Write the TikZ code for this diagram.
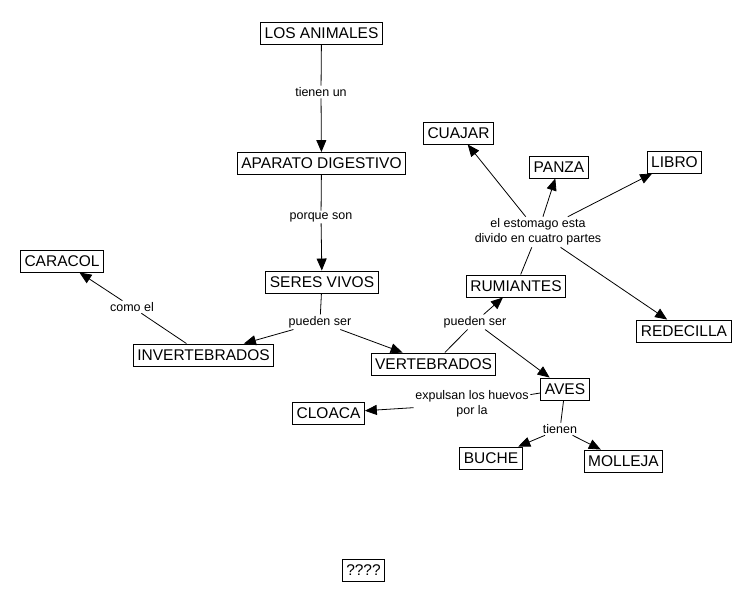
\documentclass[tikz,border=0pt]{standalone}
\usepackage{fontspec}
\setmainfont{Liberation Sans}
\usetikzlibrary{arrows.meta}
\begin{document}
\begin{tikzpicture}[x=1pt,y=-1pt,
  concept/.style={draw=black,line width=0.9pt,fill=white,inner xsep=4pt,inner ysep=0pt,minimum height=22pt,font=\fontsize{15.5}{18}\selectfont},
  lbl/.style={inner sep=1.5pt,align=center,font=\fontsize{12.5}{15.5}\selectfont},
  link/.style={line width=0.8pt,draw=black},
  arr/.style={link,-{Triangle[length=12pt,width=10pt]}}]
\path[use as bounding box,fill=white] (0,0) rectangle (750,601);
% concepts
\node[concept] (ani) at (321.5,33) {LOS ANIMALES};
\node[concept] (apa) at (321.5,163.5) {APARATO DIGESTIVO};
\node[concept] (ser) at (322,282) {SERES VIVOS};
\node[concept] (car) at (62,261) {CARACOL};
\node[concept] (inv) at (203.5,355) {INVERTEBRADOS};
\node[concept] (ver) at (433.5,364) {VERTEBRADOS};
\node[concept] (rum) at (516,286) {RUMIANTES};
\node[concept] (cua) at (458.5,133) {CUAJAR};
\node[concept] (pan) at (559,167) {PANZA};
\node[concept] (lib) at (674.5,162) {LIBRO};
\node[concept] (red) at (684,331) {REDECILLA};
\node[concept] (ave) at (565,389) {AVES};
\node[concept] (clo) at (328.5,413) {CLOACA};
\node[concept] (buc) at (491,458) {BUCHE};
\node[concept] (mol) at (623.5,461) {MOLLEJA};
\node[concept] (q) at (363.5,570) {????};
% link labels
\node[lbl] (l1) at (321,92) {tienen un};
\node[lbl] (l2) at (321,217) {porque son};
\node[lbl] (l3) at (132,307) {como el};
\node[lbl] (l4) at (320,322) {pueden ser};
\node[lbl] (l5) at (475,322) {pueden ser};
\node[lbl] (l6) at (538,232) {el estomago esta\\divido en cuatro partes};
\node[lbl] (l7) at (472,404) {expulsan los huevos\\por la};
\node[lbl] (l8) at (560,429) {tienen};
% connectors
\draw[link] (ani) -- (l1);
\draw[arr] (l1) -- (apa);
\draw[link] (apa) -- (l2);
\draw[arr] (l2) -- (ser);
\draw[link] (ser) -- (l4);
\draw[arr] (l4) -- (inv);
\draw[arr] (l4) -- (ver);
\draw[link] (inv) -- (l3);
\draw[arr] (l3) -- (car);
\draw[link] (ver) -- (l5);
\draw[arr] (l5) -- (rum);
\draw[arr] (l5) -- (ave);
\draw[link] (rum) -- (l6);
\draw[arr] (l6) -- (cua);
\draw[arr] (l6) -- (pan);
\draw[arr] (l6) -- (lib);
\draw[arr] (l6) -- (red);
\draw[link] (ave) -- (l7);
\draw[arr] (l7) -- (clo);
\draw[link] (ave) -- (l8);
\draw[arr] (l8) -- (buc);
\draw[arr] (l8) -- (mol);
\end{tikzpicture}
\end{document}
